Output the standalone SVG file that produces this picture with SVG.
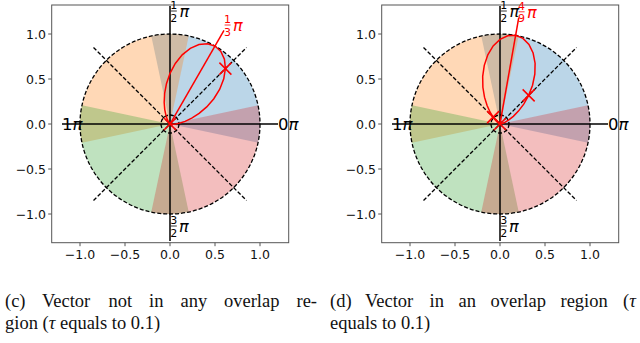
<svg xmlns="http://www.w3.org/2000/svg" width="640" height="343" viewBox="0 0 640 343">
<style>
.tick{font-family:"DejaVu Sans",sans-serif;font-size:12.5px;fill:#111}
.lab{font-family:"DejaVu Sans",sans-serif;fill:#000}
.pi{font-style:oblique}
.cap{font-family:"Liberation Serif",serif;font-size:18.5px;fill:#111}
.dash{fill:none;stroke:#000;stroke-width:1.3;stroke-dasharray:4 2}
.ax{stroke:#000;stroke-width:1.5}
.spine{fill:none;stroke:#555;stroke-width:1}
.tm{stroke:#555;stroke-width:1}
.red{fill:none;stroke:#f00;stroke-width:1.5}
.fb{stroke-width:0.8}
</style>
<defs>
<path id="lobe" d="M0,0 L0.10,0.39 L0.42,1.16 L1.21,2.60 L2.81,4.87 L5.59,7.98 L9.87,11.77 L15.91,15.91 L23.74,19.92 L33.19,23.24 L43.85,25.31 L55.03,25.66 L65.95,24.00 L75.68,20.28 L83.37,14.70 L88.30,7.73 L90,0 L88.30,-7.73 L83.37,-14.70 L75.68,-20.28 L65.95,-24.00 L55.03,-25.66 L43.85,-25.31 L33.19,-23.24 L23.74,-19.92 L15.91,-15.91 L9.87,-11.77 L5.59,-7.98 L2.81,-4.87 L1.21,-2.60 L0.42,-1.16 L0.10,-0.39 Z"/>
<path id="xm" d="M-6,-6 L6,6 M-6,6 L6,-6"/>
</defs>

<g id="panel-c">
  <g id="sectors-c" fill-opacity="0.3">
    <path fill="#1f77b4" d="M170,124 L258.03,142.71 A90,90 0 0 0 151.29,35.97 Z"/>
    <path fill="#ff7f0e" d="M170,124 L188.71,35.97 A90,90 0 0 0 81.97,142.71 Z"/>
    <path fill="#2ca02c" d="M170,124 L81.97,105.29 A90,90 0 0 0 188.71,212.03 Z"/>
    <path fill="#d62728" d="M170,124 L151.29,212.03 A90,90 0 0 0 258.03,105.29 Z"/>
  </g>
  <g id="guides-c">
    <circle class="dash" cx="170" cy="124" r="90"/>
    <circle class="dash" cx="170" cy="124" r="9"/>
    <line class="dash" x1="93.5" y1="47.5" x2="246.5" y2="200.5"/>
    <line class="dash" x1="93.5" y1="200.5" x2="246.5" y2="47.5"/>
    <line class="ax" x1="62" y1="124" x2="278" y2="124"/>
    <line class="ax" x1="170" y1="6" x2="170" y2="241"/>
  </g>
  <g id="frame-c">
    <rect class="spine" x="51.7" y="5" width="237" height="237.7"/>
    <path class="tm" d="M80,242.7v3.5M125,242.7v3.5M170,242.7v3.5M215,242.7v3.5M260,242.7v3.5M51.7,34h-3.5M51.7,79h-3.5M51.7,124h-3.5M51.7,169h-3.5M51.7,214h-3.5"/>
    <g class="tick" text-anchor="middle">
      <text x="80" y="259">−1.0</text><text x="125" y="259">−0.5</text><text x="170" y="259">0.0</text><text x="215" y="259">0.5</text><text x="260" y="259">1.0</text>
    </g>
    <g class="tick" text-anchor="end">
      <text x="46" y="38.5">1.0</text><text x="46" y="83.5">0.5</text><text x="46" y="128.5">0.0</text><text x="46" y="173.5">−0.5</text><text x="46" y="218.5">−1.0</text>
    </g>
  </g>
  <g id="labels-c" class="lab">
    <text x="278" y="129.5" font-size="16.5">0<tspan class="pi">π</tspan></text>
    <text x="62" y="129.5" font-size="16.5">1<tspan class="pi">π</tspan></text>
    <text x="173.8" y="9" font-size="11" text-anchor="middle">1</text>
    <line class="fb" stroke="#000" x1="170.8" y1="11" x2="176.8" y2="11"/>
    <text x="173.8" y="21.8" font-size="11" text-anchor="middle">2</text>
    <text x="179.5" y="16.7" font-size="16" class="pi">π</text>
    <text x="173.8" y="224" font-size="11" text-anchor="middle">3</text>
    <line class="fb" stroke="#000" x1="170.8" y1="226" x2="176.8" y2="226"/>
    <text x="173.8" y="236.6" font-size="11" text-anchor="middle">2</text>
    <text x="179" y="231.7" font-size="16" class="pi">π</text>
  </g>
  <g id="vector-c">
    <g transform="translate(170,124) rotate(-60)">
      <use href="#lobe" class="red"/>
      <line class="red" x1="0" y1="0" x2="108" y2="0"/>
    </g>
    <use href="#xm" class="red" stroke-width="2.6" transform="translate(170,124)"/>
    <use href="#xm" class="red" transform="translate(225.4,68.6)"/>
    <g class="lab">
      <text x="227.6" y="23" font-size="11" text-anchor="middle" fill="#f00">1</text>
      <line class="fb" stroke="#f00" x1="224.6" y1="25" x2="230.6" y2="25"/>
      <text x="227.6" y="35.6" font-size="11" text-anchor="middle" fill="#f00">3</text>
      <text x="233" y="30.7" font-size="16" class="pi" fill="#f00">π</text>
    </g>
  </g>
</g>

<g id="panel-d" transform="translate(330,0)">
  <g id="sectors-d" fill-opacity="0.3">
    <path fill="#1f77b4" d="M170,124 L258.03,142.71 A90,90 0 0 0 151.29,35.97 Z"/>
    <path fill="#ff7f0e" d="M170,124 L188.71,35.97 A90,90 0 0 0 81.97,142.71 Z"/>
    <path fill="#2ca02c" d="M170,124 L81.97,105.29 A90,90 0 0 0 188.71,212.03 Z"/>
    <path fill="#d62728" d="M170,124 L151.29,212.03 A90,90 0 0 0 258.03,105.29 Z"/>
  </g>
  <g id="guides-d">
    <circle class="dash" cx="170" cy="124" r="90"/>
    <circle class="dash" cx="170" cy="124" r="9"/>
    <line class="dash" x1="93.5" y1="47.5" x2="246.5" y2="200.5"/>
    <line class="dash" x1="93.5" y1="200.5" x2="246.5" y2="47.5"/>
    <line class="ax" x1="62" y1="124" x2="278" y2="124"/>
    <line class="ax" x1="170" y1="6" x2="170" y2="241"/>
  </g>
  <g id="frame-d">
    <rect class="spine" x="51.7" y="5" width="237" height="237.7"/>
    <path class="tm" d="M80,242.7v3.5M125,242.7v3.5M170,242.7v3.5M215,242.7v3.5M260,242.7v3.5M51.7,34h-3.5M51.7,79h-3.5M51.7,124h-3.5M51.7,169h-3.5M51.7,214h-3.5"/>
    <g class="tick" text-anchor="middle">
      <text x="80" y="259">−1.0</text><text x="125" y="259">−0.5</text><text x="170" y="259">0.0</text><text x="215" y="259">0.5</text><text x="260" y="259">1.0</text>
    </g>
    <g class="tick" text-anchor="end">
      <text x="46" y="38.5">1.0</text><text x="46" y="83.5">0.5</text><text x="46" y="128.5">0.0</text><text x="46" y="173.5">−0.5</text><text x="46" y="218.5">−1.0</text>
    </g>
  </g>
  <g id="labels-d" class="lab">
    <text x="278" y="129.5" font-size="16.5">0<tspan class="pi">π</tspan></text>
    <text x="62" y="129.5" font-size="16.5">1<tspan class="pi">π</tspan></text>
    <text x="173.8" y="9" font-size="11" text-anchor="middle">1</text>
    <line class="fb" stroke="#000" x1="170.8" y1="11" x2="176.8" y2="11"/>
    <text x="173.8" y="21.8" font-size="11" text-anchor="middle">2</text>
    <text x="179.5" y="16.7" font-size="16" class="pi">π</text>
    <text x="173.8" y="224" font-size="11" text-anchor="middle">3</text>
    <line class="fb" stroke="#000" x1="170.8" y1="226" x2="176.8" y2="226"/>
    <text x="173.8" y="236.6" font-size="11" text-anchor="middle">2</text>
    <text x="179" y="231.7" font-size="16" class="pi">π</text>
  </g>
  <g id="vector-d">
    <g transform="translate(170,124) rotate(-80)">
      <use href="#lobe" class="red"/>
      <line class="red" x1="0" y1="0" x2="108" y2="0"/>
    </g>
    <use href="#xm" class="red" stroke-width="2.6" transform="translate(170,124)"/>
    <use href="#xm" class="red" transform="translate(198.65,95.35)"/>
    <use href="#xm" class="red" transform="translate(163.1,117.1)"/>
    <g class="lab">
      <text x="191.6" y="9.8" font-size="11" text-anchor="middle" fill="#f00">4</text>
      <line class="fb" stroke="#f00" x1="188.6" y1="11.8" x2="194.6" y2="11.8"/>
      <text x="191.6" y="22.4" font-size="11" text-anchor="middle" fill="#f00">9</text>
      <text x="197" y="17.5" font-size="16" class="pi" fill="#f00">π</text>
    </g>
  </g>
</g>

<g id="captions" class="cap">
  <text y="307"><tspan x="5">(c)</tspan><tspan x="42">Vector</tspan><tspan x="108.5">not</tspan><tspan x="149">in</tspan><tspan x="180.5">any</tspan><tspan x="224">overlap</tspan><tspan x="296.5">re-</tspan></text>
  <text x="5" y="329">gion (<tspan font-style="italic">τ</tspan> equals to 0.1)</text>
  <text y="307"><tspan x="330">(d)</tspan><tspan x="365">Vector</tspan><tspan x="429.5">in</tspan><tspan x="458.5">an</tspan><tspan x="490.5">overlap</tspan><tspan x="560.5">region</tspan><tspan x="623">(<tspan font-style="italic">τ</tspan></tspan></text>
  <text x="330" y="329">equals to 0.1)</text>
</g>
</svg>
